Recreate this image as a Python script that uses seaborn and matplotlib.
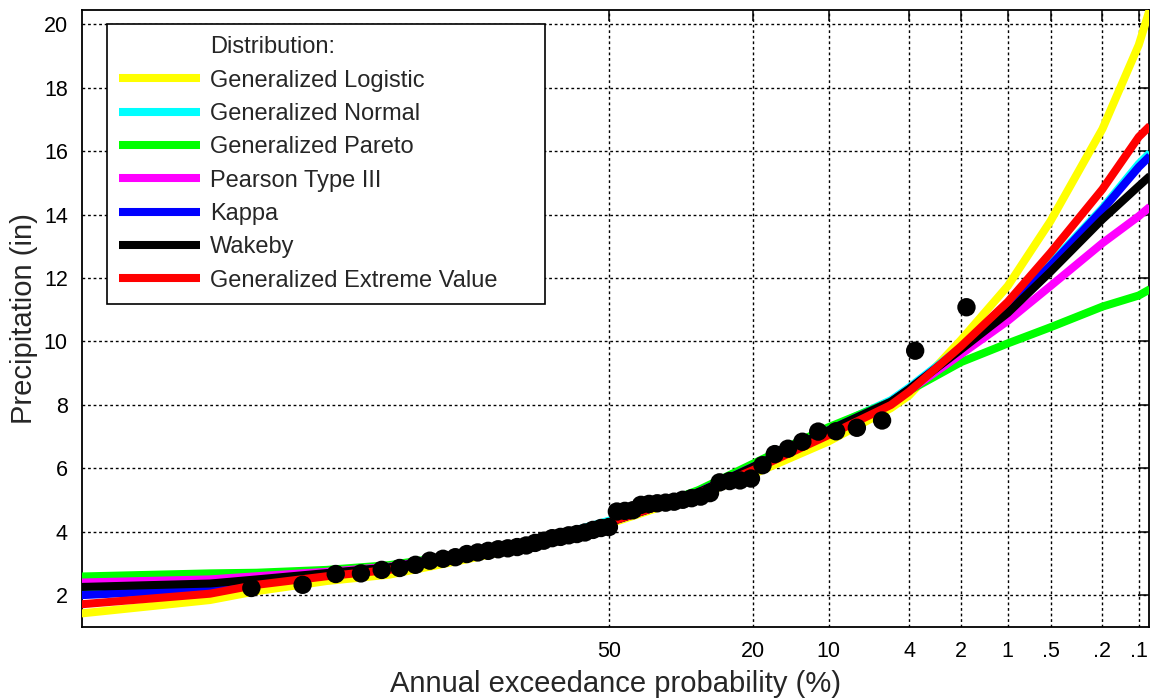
"""
Frequency curves of annual maximum precipitation on a normal probability scale
"""

import statistics
import matplotlib
matplotlib.use("Agg")
import matplotlib.pyplot as plt
from matplotlib.lines import Line2D
import pandas as pd
import seaborn as sns

# exceedance probabilities (%) where the fitted curves were read
curve_aep = [99.9, 99, 98, 95, 90, 80, 70, 60, 50, 40, 30, 20, 10, 5, 4, 2, 1, 0.5, 0.2, 0.1, 0.08]

glo = [1.42, 1.85, 2.13, 2.45, 2.65, 3.12, 3.48, 3.85, 4.25, 4.70, 5.15, 5.82, 6.85, 7.90, 8.30, 10.05, 11.75, 13.80, 16.70, 19.35, 20.50]
gno = [2.08, 2.25, 2.45, 2.70, 2.90, 3.32, 3.62, 3.96, 4.35, 4.78, 5.30, 6.10, 7.25, 8.15, 8.55, 9.82, 11.05, 12.45, 14.20, 15.60, 15.95]
gpa = [2.59, 2.69, 2.71, 2.80, 2.95, 3.30, 3.60, 3.93, 4.30, 4.77, 5.32, 6.15, 7.30, 8.10, 8.45, 9.35, 9.94, 10.45, 11.10, 11.45, 11.65]
pe3 = [2.40, 2.50, 2.60, 2.74, 2.90, 3.28, 3.58, 3.92, 4.30, 4.75, 5.25, 6.05, 7.20, 8.05, 8.45, 9.60, 10.65, 11.75, 13.10, 13.95, 14.25]
kap = [2.00, 2.20, 2.42, 2.68, 2.87, 3.27, 3.58, 3.92, 4.30, 4.75, 5.25, 6.05, 7.20, 8.10, 8.50, 9.78, 11.05, 12.40, 14.15, 15.50, 15.85]
wak = [2.26, 2.37, 2.50, 2.70, 2.88, 3.27, 3.58, 3.92, 4.30, 4.75, 5.25, 6.05, 7.20, 8.10, 8.50, 9.75, 10.90, 12.20, 13.85, 14.90, 15.22]
gev = [1.71, 2.05, 2.33, 2.60, 2.80, 3.22, 3.55, 3.90, 4.30, 4.75, 5.22, 5.95, 7.05, 8.00, 8.42, 9.85, 11.25, 12.80, 14.80, 16.45, 16.80]

dist_names = ["Generalized Logistic", "Generalized Normal", "Generalized Pareto",
              "Pearson Type III", "Kappa", "Wakeby", "Generalized Extreme Value"]
dist_colors = ["#ffff00", "#00ffff", "#00ff00", "#ff00ff", "#0000ff", "#000000", "#ff0000"]

# observed annual maxima (in), largest first
observed = [11.08, 9.71, 7.51, 7.28, 7.17, 7.16, 6.84, 6.62, 6.45, 6.10,
            5.68, 5.62, 5.60, 5.56, 5.22, 5.11, 5.06, 5.01, 4.95, 4.92,
            4.90, 4.88, 4.85, 4.68, 4.66, 4.64, 4.15, 4.12, 4.06, 3.98,
            3.93, 3.89, 3.84, 3.80, 3.72, 3.65, 3.57, 3.52, 3.48, 3.45,
            3.40, 3.35, 3.30, 3.20, 3.15, 3.09, 2.96, 2.86, 2.80, 2.69,
            2.67, 2.33, 2.23]

tick_aep = [50, 20, 10, 4, 2, 1, 0.5, 0.2, 0.1]
tick_labels = ["50", "20", "10", "4", "2", "1", ".5", ".2", ".1"]

ND = statistics.NormalDist()


def aep_to_z(p):
    """exceedance probability (%) -> standard normal variate"""
    return ND.inv_cdf(1 - p / 100.0)


# long table for seaborn
rows = []
for name, vals in zip(dist_names, [glo, gno, gpa, pe3, kap, wak, gev]):
    for p, v in zip(curve_aep, vals):
        rows.append({"dist": name, "z": aep_to_z(p), "precip": v})
curves = pd.DataFrame(rows)

n = len(observed)
obs = pd.DataFrame({
    "z": [aep_to_z(100.0 * (i + 1) / (n + 1)) for i in range(n)],  # Weibull plotting position
    "precip": observed,
})

sns.set_style("white")
plt.rcParams["font.family"] = ["Liberation Sans", "DejaVu Sans"]
plt.rcParams["lines.solid_capstyle"] = "butt"

fig, ax = plt.subplots(figsize=(11.5, 7), dpi=100)
fig.subplots_adjust(left=0.071, right=0.999, top=0.9857, bottom=0.1043)

palette = dict(zip(dist_names, dist_colors))
sns.lineplot(data=curves, x="z", y="precip", hue="dist", hue_order=dist_names,
             palette=palette, linewidth=5.8, legend=False, ax=ax, zorder=3)
sns.scatterplot(data=obs, x="z", y="precip", color="black", s=175,
                edgecolor="none", ax=ax, zorder=4)

ax.set_xlim(-3.075, 3.149)
ax.set_ylim(1.0, 20.45)
ax.set_xticks([aep_to_z(p) for p in tick_aep])
ax.set_xticklabels(tick_labels)
ax.set_yticks(range(2, 21, 2))

ax.grid(True, color="black", linestyle=(0, (2, 2)), linewidth=1.0)
ax.set_axisbelow(True)
ax.tick_params(direction="in", length=8, width=1.1, top=True, right=True,
               labelsize=15.5, colors="black", pad=10)
for sp in ax.spines.values():
    sp.set_color("black")
    sp.set_linewidth(1.3)

ax.set_xlabel("Annual exceedance probability (%)", fontsize=21, labelpad=6)
ax.set_ylabel("Precipitation (in)", fontsize=21, labelpad=4)

handles = [Line2D([], [], color="none", lw=5.8, label="Distribution:")]
for name, col in zip(dist_names, dist_colors):
    handles.append(Line2D([], [], color=col, lw=5.8, label=name))
leg = ax.legend(handles=handles, loc="upper left", bbox_to_anchor=(0.0234, 0.9773, 0.4107, 0.0),
                mode="expand", borderaxespad=0, fontsize=17, handlelength=3.45,
                handletextpad=0.42, labelspacing=0.48, borderpad=0.52,
                fancybox=False, framealpha=1, edgecolor="black")
leg.get_frame().set_linewidth(1.2)
leg.set_zorder(10)

plt.savefig("out.png", dpi=100)
plt.close()
